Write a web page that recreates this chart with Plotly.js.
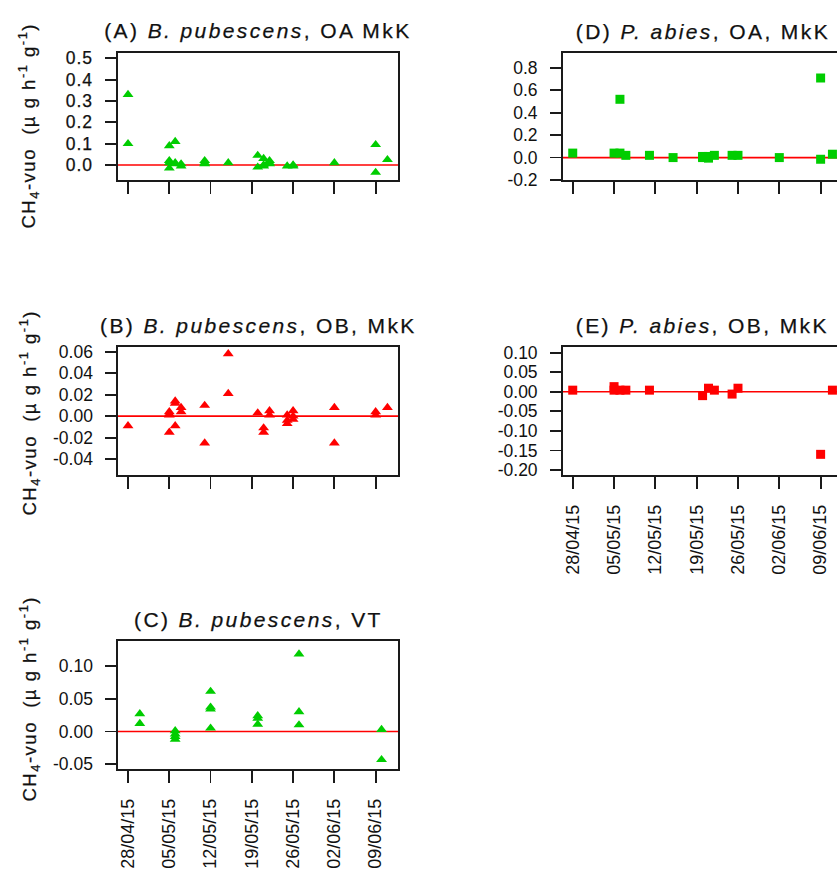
<!DOCTYPE html>
<html>
<head>
<meta charset="utf-8">
<script src="https://cdn.plot.ly/plotly-3.0.1.min.js"></script>
<style>
  html, body { margin: 0; padding: 0; overflow: hidden; background: #ffffff; }
  #fig { width: 860px; height: 872px; }
  .xtick text, .ytick text { letter-spacing: 0.9px; stroke: #111; stroke-width: 0.25px; }
  .annotation text { letter-spacing: 2.4px; stroke: #111; stroke-width: 0.25px; }
  .annotation[data-index="5"] text,
  .annotation[data-index="6"] text,
  .annotation[data-index="7"] text { letter-spacing: 1.5px; }
</style>
</head>
<body>
<div id="fig"></div>
<script>
// (A) B. pubescens, OA MkK
const datesA = ['2015-04-28','2015-04-28',
  '2015-05-05','2015-05-05','2015-05-05','2015-05-05',
  '2015-05-06','2015-05-06','2015-05-06',
  '2015-05-07','2015-05-07',
  '2015-05-11','2015-05-11','2015-05-11',
  '2015-05-15',
  '2015-05-20','2015-05-20',
  '2015-05-21','2015-05-21','2015-05-21',
  '2015-05-22','2015-05-22','2015-05-22',
  '2015-05-25','2015-05-26','2015-05-26',
  '2015-06-02',
  '2015-06-09','2015-06-09',
  '2015-06-11'];
const fluxA = [0.33, 0.10,
  0.09, 0.02, 0.01, -0.015,
  0.11, 0.01, 0.005,
  0.005, -0.005,
  0.02, 0.01, 0.005,
  0.01,
  0.045, -0.01,
  0.03, 0.0, -0.005,
  0.02, 0.01, 0.005,
  -0.005, -0.005, 0.0,
  0.01,
  0.095, -0.035,
  0.025];

// (B) B. pubescens, OB, MkK
const datesB = ['2015-04-28',
  '2015-05-05','2015-05-05','2015-05-05','2015-05-05',
  '2015-05-06','2015-05-06','2015-05-06',
  '2015-05-07','2015-05-07',
  '2015-05-11','2015-05-11',
  '2015-05-15','2015-05-15',
  '2015-05-20',
  '2015-05-21','2015-05-21',
  '2015-05-22','2015-05-22',
  '2015-05-25','2015-05-25','2015-05-25',
  '2015-05-26','2015-05-26','2015-05-26',
  '2015-06-02','2015-06-02',
  '2015-06-09','2015-06-09',
  '2015-06-11'];
const fluxB = [-0.009,
  0.004, 0.002, 0.001, -0.015,
  0.014, 0.012, -0.009,
  0.008, 0.004,
  0.010, -0.025,
  0.058, 0.021,
  0.003,
  -0.011, -0.015,
  0.005, 0.001,
  0.001, -0.007, -0.004,
  0.005, 0.0, -0.003,
  0.008, -0.025,
  0.004, 0.001,
  0.008];

// (C) B. pubescens, VT
const datesC = ['2015-04-30','2015-04-30',
  '2015-05-06','2015-05-06','2015-05-06','2015-05-06',
  '2015-05-12','2015-05-12','2015-05-12','2015-05-12',
  '2015-05-20','2015-05-20','2015-05-20',
  '2015-05-27','2015-05-27','2015-05-27',
  '2015-06-10','2015-06-10'];
const fluxC = [0.027, 0.012,
  0.001, -0.004, -0.008, -0.012,
  0.061, 0.037, 0.034, 0.005,
  0.024, 0.020, 0.011,
  0.118, 0.030, 0.010,
  0.003, -0.043];

// (D) P. abies, OA, MkK
const datesD = ['2015-04-28',
  '2015-05-05',
  '2015-05-06','2015-05-06',
  '2015-05-07',
  '2015-05-11',
  '2015-05-15',
  '2015-05-20','2015-05-20',
  '2015-05-21','2015-05-21',
  '2015-05-22',
  '2015-05-25',
  '2015-05-26',
  '2015-06-02',
  '2015-06-09','2015-06-09',
  '2015-06-11'];
const fluxD = [0.04,
  0.04,
  0.52, 0.04,
  0.02,
  0.02,
  0.0,
  0.0, 0.01,
  0.01, -0.005,
  0.02,
  0.02,
  0.02,
  0.0,
  0.71, -0.015,
  0.03];

// (E) P. abies, OB, MkK
const datesE = ['2015-04-28',
  '2015-05-05','2015-05-05',
  '2015-05-06',
  '2015-05-07',
  '2015-05-11',
  '2015-05-20',
  '2015-05-21',
  '2015-05-22',
  '2015-05-25',
  '2015-05-26',
  '2015-06-09',
  '2015-06-11'];
const fluxE = [0.004,
  0.013, 0.004,
  0.004,
  0.004,
  0.004,
  -0.010,
  0.009,
  0.004,
  -0.006,
  0.009,
  -0.16,
  0.004];

// panel titles
const titles = [
  '(A) <i>B. pubescens</i>, OA MkK',
  '(B) <i>B. pubescens</i>, OB, MkK',
  '(C) <i>B. pubescens</i>, VT',
  '(D) <i>P. abies</i>, OA, MkK',
  '(E) <i>P. abies</i>, OB, MkK'
];
const yLabel = 'CH<sub>4</sub>-vuo  (µ g h<sup>-1</sup> g<sup>-1</sup>)';

// y tick values and their printed labels
const yTicksA = [0, 0.1, 0.2, 0.3, 0.4, 0.5];
const yTextA  = ['0.0', '0.1', '0.2', '0.3', '0.4', '0.5'];
const yTicksB = [-0.04, -0.02, 0, 0.02, 0.04, 0.06];
const yTextB  = ['-0.04', '-0.02', '0.00', '0.02', '0.04', '0.06'];
const yTicksC = [-0.05, 0, 0.05, 0.10];
const yTextC  = ['-0.05', '0.00', '0.05', '0.10'];
const yTicksD = [-0.2, 0, 0.2, 0.4, 0.6, 0.8];
const yTextD  = ['-0.2', '0.0', '0.2', '0.4', '0.6', '0.8'];
const yTicksE = [-0.20, -0.15, -0.10, -0.05, 0, 0.05, 0.10];
const yTextE  = ['-0.20', '-0.15', '-0.10', '-0.05', '0.00', '0.05', '0.10'];

// ---------------------------------------------------------------
const W = 860, H = 872;
const FONT = '"Liberation Sans", Arial, sans-serif';
const GREEN = '#00cd00', RED = '#ff0000', INK = '#1a1a1a';

const xd = (l, r) => [l / W, r / W];
const yd = (t, b) => [1 - b / H, 1 - t / H];

const boxes = {
  A: {x: [118, 398],   y: [52.5, 180]},
  B: {x: [118, 398],   y: [347, 475]},
  C: {x: [118, 398],   y: [641, 769]},
  D: {x: [562.7, 843], y: [53, 180]},
  E: {x: [562.7, 843], y: [347, 475]}
};
// vertical centres of the rotated y-axis titles (left column)
const yTitleCentre = {A: 126, B: 413, C: 699};

const xRange = ['2015-04-26 07:12', '2015-06-12 19:00'];

function xAxis(key, anchor, labels) {
  return {
    domain: xd(...boxes[key].x), anchor: anchor, type: 'date',
    range: xRange, tick0: '2015-04-28', dtick: 7 * 86400000,
    tickformat: '%d/%m/%y', tickangle: -90,
    showticklabels: labels, ticklabelstandoff: 9,
    showline: true, mirror: true, linecolor: INK, linewidth: 1.6,
    ticks: 'outside', ticklen: 12, tickwidth: 1.8, tickcolor: INK,
    showgrid: false, zeroline: false,
    tickfont: {family: FONT, size: 18, color: '#111'}
  };
}
function yAxis(key, anchor, range, vals, text) {
  return {
    domain: yd(...boxes[key].y), anchor: anchor, range: range,
    tickmode: 'array', tickvals: vals, ticktext: text,
    ticklabelstandoff: 9,
    showline: true, mirror: true, linecolor: INK, linewidth: 1.6,
    ticks: 'outside', ticklen: 11, tickwidth: 1.8, tickcolor: INK,
    showgrid: false, zeroline: false,
    tickfont: {family: FONT, size: 17.5, color: '#111'}
  };
}

function pts(x, y, xa, ya, symbol, color, size) {
  return {
    type: 'scatter', mode: 'markers', x: x, y: y, xaxis: xa, yaxis: ya,
    marker: {symbol: symbol, color: color, size: size, line: {width: 0}},
    hoverinfo: 'skip', showlegend: false, cliponaxis: false
  };
}

const traces = [
  pts(datesA, fluxA, 'x',  'y',  'triangle-up', GREEN, 9.5),
  pts(datesB, fluxB, 'x2', 'y2', 'triangle-up', RED,   9.5),
  pts(datesC, fluxC, 'x3', 'y3', 'triangle-up', GREEN, 9.5),
  pts(datesD, fluxD, 'x4', 'y4', 'square',      GREEN, 9),
  pts(datesE, fluxE, 'x5', 'y5', 'square',      RED,   9)
];

// red reference line at zero in each panel
const zeroLines = ['', '2', '3', '4', '5'].map(s => ({
  type: 'line', layer: 'below',
  xref: 'x' + s + ' domain', x0: 0, x1: 1,
  yref: 'y' + s, y0: 0, y1: 0,
  line: {color: RED, width: 1.6}
}));

const keys = ['A', 'B', 'C', 'D', 'E'];
const titleAnns = keys.map((k, i) => ({
  text: titles[i], showarrow: false,
  xref: 'paper', yref: 'paper',
  x: (boxes[k].x[0] + boxes[k].x[1]) / 2 / W,
  y: 1 - (boxes[k].y[0] - 22) / H,
  xanchor: 'center', yanchor: 'middle',
  font: {family: FONT, size: 21, color: '#111'}
}));
const yTitleAnns = ['A', 'B', 'C'].map(k => ({
  text: yLabel, showarrow: false, textangle: -90,
  xref: 'paper', yref: 'paper',
  x: 29 / W, y: 1 - yTitleCentre[k] / H,
  xanchor: 'center', yanchor: 'middle',
  font: {family: FONT, size: 18.5, color: '#111'}
}));

const layout = {
  width: W, height: H,
  margin: {l: 0, r: 0, t: 0, b: 0},
  paper_bgcolor: '#ffffff', plot_bgcolor: '#ffffff',
  showlegend: false,
  xaxis:  xAxis('A', 'y',  false),
  xaxis2: xAxis('B', 'y2', false),
  xaxis3: xAxis('C', 'y3', true),
  xaxis4: xAxis('D', 'y4', false),
  xaxis5: xAxis('E', 'y5', true),
  yaxis:  yAxis('A', 'x',  [-0.0703, 0.527], yTicksA, yTextA),
  yaxis2: yAxis('B', 'x2', [-0.0547, 0.0643], yTicksB, yTextB),
  yaxis3: yAxis('C', 'x3', [-0.0572, 0.138], yTicksC, yTextC),
  yaxis4: yAxis('D', 'x4', [-0.2, 0.933], yTicksD, yTextD),
  yaxis5: yAxis('E', 'x5', [-0.2128, 0.1143], yTicksE, yTextE),
  shapes: zeroLines,
  annotations: titleAnns.concat(yTitleAnns)
};

Plotly.newPlot('fig', traces, layout, {staticPlot: true, displayModeBar: false});
</script>
</body>
</html>
